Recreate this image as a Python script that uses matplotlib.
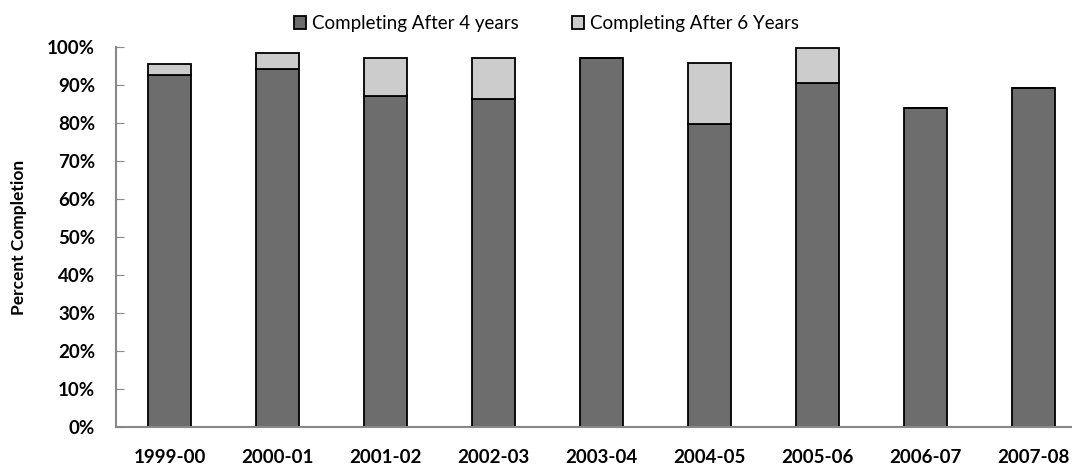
import matplotlib.pyplot as plt
import numpy as np

# Data
years = ['1999-00', '2000-01', '2001-02', '2002-03', '2003-04',
         '2004-05', '2005-06', '2006-07', '2007-08']
after_4 = [92.7, 94.1, 87.0, 86.2, 97.2, 79.8, 90.5, 83.9, 89.2]
after_6_extra = [2.8, 4.4, 10.0, 11.0, 0.0, 16.0, 9.3, 0.0, 0.0]

plt.rcParams['font.family'] = ['Lato', 'DejaVu Sans']

fig = plt.figure(figsize=(10.72, 4.68), dpi=100)
ax = fig.add_axes([0.108, 0.0876, 0.892, 0.812])

x = np.arange(len(years))
ax.bar(x, after_4, width=0.4, color='#6d6d6d', edgecolor='black', linewidth=1.3,
       label='Completing After 4 years')
ax.bar(x, after_6_extra, width=0.4, bottom=after_4, color='#cccccc', edgecolor='black',
       linewidth=1.3, label='Completing After 6 Years')

ax.set_ylim(0, 100)
ax.set_xlim(-0.5, 8.36)
ax.set_yticks(np.arange(0, 101, 10))
ax.set_yticklabels([f'{v}%' for v in range(0, 101, 10)], fontsize=13.5, fontweight='bold')
ax.set_xticks(x)
ax.set_xticklabels(years, fontsize=13.5, fontweight='bold')
ax.tick_params(axis='x', length=0, pad=15.5)
ax.tick_params(axis='y', direction='in', length=6, color='#888888', pad=15)

for s in ['top', 'right']:
    ax.spines[s].set_visible(False)
for s in ['left', 'bottom']:
    ax.spines[s].set_color('#888888')
    ax.spines[s].set_linewidth(1.5)

ax.set_ylabel('Percent Completion', fontsize=12.5, fontweight='bold', labelpad=14)

ax.legend(loc='lower left', bbox_to_anchor=(0.182, 1.03), ncol=2, frameon=False,
          fontsize=13.5, handlelength=0.65, handleheight=0.65, handletextpad=0.35,
          columnspacing=2.8, borderaxespad=0, borderpad=0.2)

fig.savefig('out.png', dpi=100)
